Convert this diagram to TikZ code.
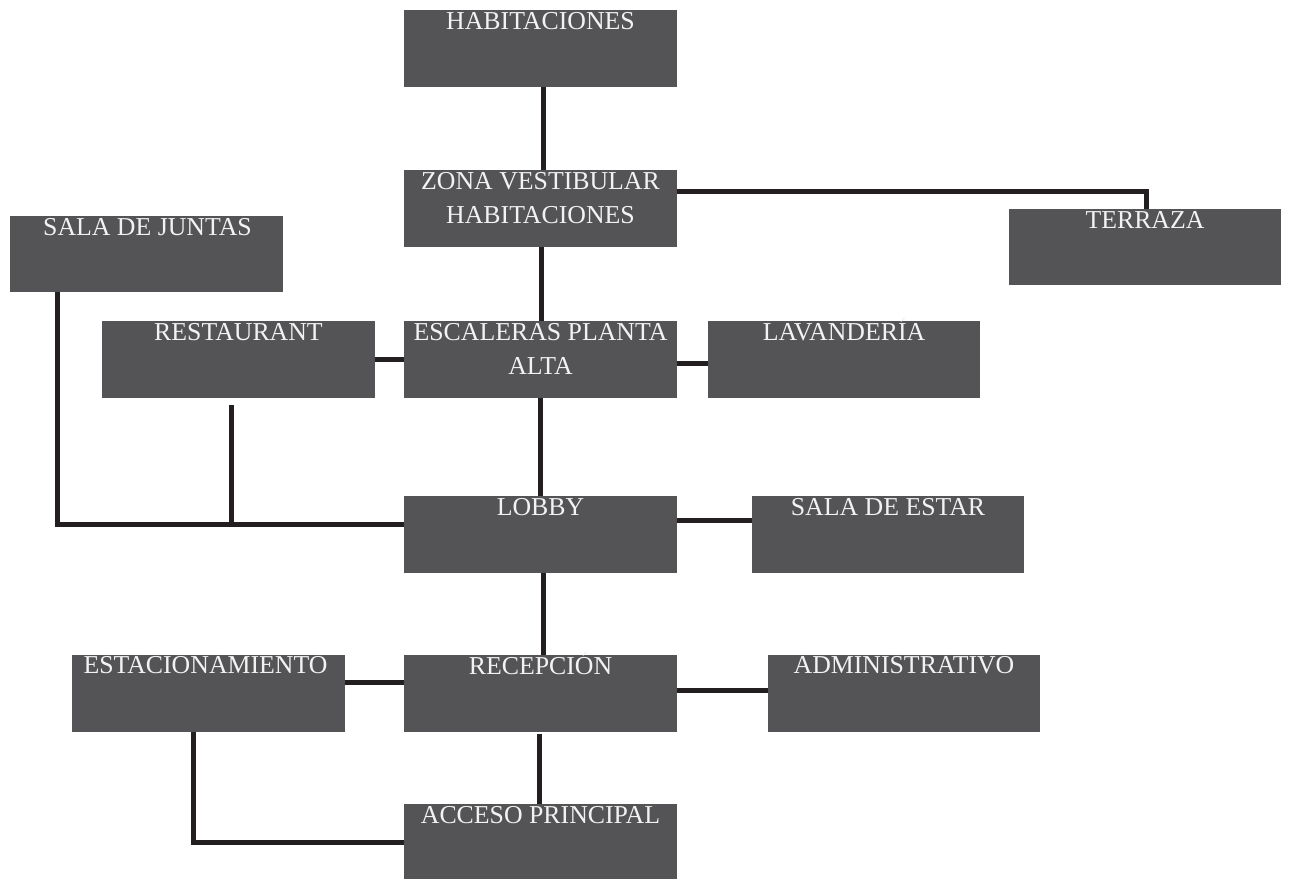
\documentclass[tikz,border=0pt]{standalone}
\usepackage{fontspec}
\setmainfont{Liberation Serif}
\usetikzlibrary{calc}
\definecolor{boxgray}{HTML}{545456}
\definecolor{linek}{HTML}{231F20}
\definecolor{txtw}{HTML}{F2F2F2}
\tikzset{
  blk/.style={fill=boxgray, draw=none, anchor=north west, minimum width=273pt, minimum height=77pt, inner sep=0pt, outer sep=0pt},
  lbl/.style={anchor=base, text=txtw, inner sep=0pt, align=center, font=\fontsize{25.8}{34}\selectfont},
  conn/.style={draw=linek, line width=5pt}
}
\begin{document}
\begin{tikzpicture}[x=1pt, y=-1pt]
\useasboundingbox (0,0) rectangle (1290,879);
% boxes
\node[blk] (hab) at (404,10) {};
\node[blk] (zona) at (404,170) {};
\node[blk, minimum width=272pt, minimum height=76pt] (terr) at (1009,209) {};
\node[blk, minimum height=76pt] (junt) at (10,216) {};
\node[blk] (rest) at (102,321) {};
\node[blk] (esc) at (404,321) {};
\node[blk, minimum width=272pt] (lav) at (708,321) {};
\node[blk] (lobby) at (404,496) {};
\node[blk, minimum width=272pt] (estar) at (752,496) {};
\node[blk] (estac) at (72,655) {};
\node[blk] (recep) at (404,655) {};
\node[blk, minimum width=272pt] (admin) at (768,655) {};
\node[blk, minimum height=75pt] (acc) at (404,804) {};
% labels
\node[lbl] (habt) at ($(hab.north)+(0,19)$) {HABITACIONES};
\node[lbl] (zonat) at ($(zona.north)+(0,53)$) {ZONA VESTIBULAR\\HABITACIONES};
\node[lbl] (terrt) at ($(terr.north)+(0,19)$) {TERRAZA};
\node[lbl] (juntt) at ($(junt.north)+(1,19)$) {SALA DE JUNTAS};
\node[lbl] (restt) at ($(rest.north)+(0,19)$) {RESTAURANT};
\node[lbl] (esct) at ($(esc.north)+(0,53)$) {ESCALERAS PLANTA\\ALTA};
\node[lbl] (lavt) at ($(lav.north)+(0,19)$) {LAVANDERÍA};
\node[lbl] (lobbyt) at ($(lobby.north)+(0,19)$) {LOBBY};
\node[lbl] (estart) at ($(estar.north)+(0,19)$) {SALA DE ESTAR};
\node[lbl] (estact) at ($(estac.north)+(-3,18)$) {ESTACIONAMIENTO};
\node[lbl] (recept) at ($(recep.north)+(0,19)$) {RECEPCIÓN};
\node[lbl] (admint) at ($(admin.north)+(0,18)$) {ADMINISTRATIVO};
\node[lbl] (acct) at ($(acc.north)+(0,19)$) {ACCESO PRINCIPAL};
% connectors
\draw[conn] ($(hab.south)+(2.5,0)$) -- ($(zona.north)+(2.5,0)$);
\draw[conn] ($(zona.north east)+(0,21)$) -| ($(terr.north west)+(137,0)$);
\draw[conn] ($(zona.south)+(1,0)$) -- ($(esc.north)+(1,0)$);
\draw[conn] (rest.east) -- (esc.west);
\draw[conn] ($(esc.east)+(0,4)$) -- ($(lav.west)+(0,4)$);
\draw[conn] (esc.south) -- (lobby.north);
\coordinate (jn) at ($(lobby.north west)+(0,28)$);
\draw[conn] ($(junt.south west)+(47,0)$) |- (jn);
\coordinate (rs) at ($(rest.south west)+(129,7)$);
\draw[conn] (rs) -- (rs |- jn);
\draw[conn] ($(lobby.north east)+(0,24)$) -- ($(estar.north west)+(0,24)$);
\draw[conn] ($(lobby.south)+(2.5,0)$) -- ($(recep.north)+(2.5,0)$);
\draw[conn] ($(estac.north east)+(0,27)$) -- ($(recep.north west)+(0,27)$);
\draw[conn] ($(recep.north east)+(0,35)$) -- ($(admin.north west)+(0,35)$);
\draw[conn] ($(recep.south)+(-1.5,2)$) -- ($(acc.north)+(-1.5,0)$);
\draw[conn] ($(estac.south west)+(121,0)$) |- ($(acc.north west)+(0,38)$);
\end{tikzpicture}
\end{document}
